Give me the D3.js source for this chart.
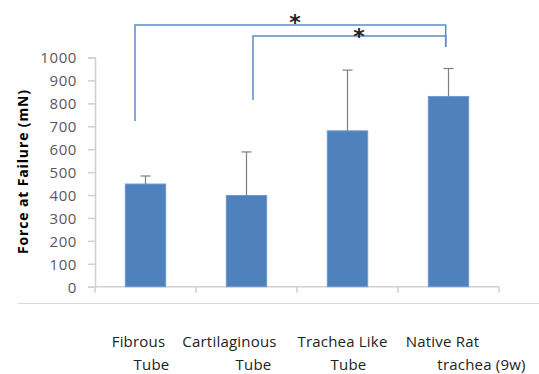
<!DOCTYPE html>
<html>
<head>
<meta charset="utf-8">
<script src="https://cdn.jsdelivr.net/npm/d3@7"></script>
<style>
body { margin: 0; background: #fff; }
</style>
</head>
<body>
<script>
// data
var categories = ["Fibrous Tube", "Cartilaginous Tube", "Trachea Like Tube", "Native Rat trachea (9w)"];
var labelLine1 = ["Fibrous", "Cartilaginous", "Trachea Like", "Native Rat"];
var labelLine2 = ["Tube", "Tube", "Tube", "trachea (9w)"];
var means = [448, 398, 680, 830];
var errors = [35, 190, 265, 122];
var yTicks = [0, 100, 200, 300, 400, 500, 600, 700, 800, 900, 1000];
// significance pairs: [from index, to index]
var sigPairs = [[0, 3], [1, 3]];

var w = 539;
var h = 374;
// plot area ("top" is taken on window, so pTop etc.)
var pLeft = 95, pRight = 499, pTop = 57.5, pBottom = 286.7;
var font = "'Open Sans', Lato, sans-serif";

var svg = d3.select("body")
.append("svg")
.attr("width", w)
.attr("height", h);

var x = d3.scaleBand()
.domain(categories)
.range([pLeft, pRight])
.paddingInner(0.6)
.paddingOuter(0.3);

var y = d3.scaleLinear()
.domain([0, 1000])
.range([pBottom, pTop]);

// y axis
var yAxis = svg.append("g")
.attr("transform", "translate(" + pLeft + ",0)")
.call(d3.axisLeft(y).tickValues(yTicks).tickFormat(d3.format("d")).tickSize(7).tickPadding(11));
yAxis.select(".domain").attr("stroke", "#d0d0d0").attr("stroke-width", 1.5);
yAxis.selectAll(".tick line").attr("stroke", "#d0d0d0").attr("stroke-width", 1.5);
yAxis.selectAll(".tick text")
.attr("font-family", font)
.attr("font-size", "15px")
.attr("fill", "#595959")
.attr("dy", "0.36em")
.style("letter-spacing", "0.6px");

// x axis line with category ticks
svg.append("line")
.attr("x1", pLeft).attr("x2", pRight)
.attr("y1", pBottom).attr("y2", pBottom)
.attr("stroke", "#d0d0d0").attr("stroke-width", 1.5);

var step = (pRight - pLeft) / categories.length;
var bounds = d3.range(categories.length + 1);
svg.selectAll(".xtick")
.data(bounds)
.enter()
.append("line")
.attr("class", "xtick")
.attr("x1", function(d) { return pLeft + d * step; })
.attr("x2", function(d) { return pLeft + d * step; })
.attr("y1", pBottom)
.attr("y2", pBottom + 6)
.attr("stroke", "#d0d0d0")
.attr("stroke-width", 1.5);

// bars
svg.selectAll("rect.bar")
.data(means)
.enter()
.append("rect")
.attr("class", "bar")
.attr("x", function(d, i) { return x(categories[i]); })
.attr("y", function(d) { return y(d); })
.attr("width", x.bandwidth())
.attr("height", function(d) { return y(0) - y(d); })
.attr("fill", "#4f81bd")
.attr("stroke", "#6f9ad0")
.attr("stroke-width", 1);

// error bars (upper only)
var eb = svg.selectAll("g.err")
.data(means)
.enter()
.append("g")
.attr("class", "err");
eb.append("line")
.attr("x1", function(d, i) { return x(categories[i]) + x.bandwidth() / 2; })
.attr("x2", function(d, i) { return x(categories[i]) + x.bandwidth() / 2; })
.attr("y1", function(d) { return y(d); })
.attr("y2", function(d, i) { return y(d + errors[i]); })
.attr("stroke", "#7f7f7f")
.attr("stroke-width", 1.2);
eb.append("line")
.attr("x1", function(d, i) { return x(categories[i]) + x.bandwidth() / 2 - 5; })
.attr("x2", function(d, i) { return x(categories[i]) + x.bandwidth() / 2 + 5; })
.attr("y1", function(d, i) { return y(d + errors[i]); })
.attr("y2", function(d, i) { return y(d + errors[i]); })
.attr("stroke", "#7f7f7f")
.attr("stroke-width", 1.2);

// significance brackets
var bracketTop = [25, 36];
var bracketLeftEnd = [121, 100];
var bracketRightEnd = 47;
var bracketX = [135, 253];
var rightX = 445.7;
sigPairs.forEach(function(p, i) {
  var path = d3.path();
  path.moveTo(bracketX[i], bracketLeftEnd[i]);
  path.lineTo(bracketX[i], bracketTop[i]);
  path.lineTo(rightX, bracketTop[i]);
  path.lineTo(rightX, bracketRightEnd);
  svg.append("path")
  .attr("d", path.toString())
  .attr("fill", "none")
  .attr("stroke", "#5b8bc9")
  .attr("stroke-width", 1.5);
});
var starX = [295, 359];
var starY = [30, 44];
starX.forEach(function(sx, i) {
  svg.append("text")
  .attr("x", sx)
  .attr("y", starY[i])
  .attr("text-anchor", "middle")
  .attr("font-family", "'DejaVu Sans', sans-serif")
  .attr("font-size", "22px")
  .attr("font-weight", "bold")
  .attr("fill", "#222")
  .text("*");
});

// y axis title
svg.append("text")
.attr("transform", "translate(28,172) rotate(-90)")
.attr("text-anchor", "middle")
.attr("font-family", font)
.attr("font-size", "14px")
.attr("font-weight", "bold")
.attr("fill", "#000")
.attr("textLength", 164)
.attr("lengthAdjust", "spacing")
.text("Force at Failure (mN)");

// separator line above category labels
svg.append("line")
.attr("x1", 18).attr("x2", w)
.attr("y1", 303.5).attr("y2", 303.5)
.attr("stroke", "#d9d9d9").attr("stroke-width", 1);

// category labels (two lines, offsets from band centre)
var off1 = [-7, -17, -5, -6];
var off2 = [6, 7, 1, 33];
svg.selectAll("text.l1")
.data(labelLine1)
.enter()
.append("text")
.attr("class", "l1")
.attr("x", function(d, i) { return x(categories[i]) + x.bandwidth() / 2 + off1[i]; })
.attr("y", 347)
.attr("text-anchor", "middle")
.attr("font-family", font)
.attr("font-size", "15px")
.attr("fill", "#222")
.style("letter-spacing", "0.2px")
.text(function(d) { return d; });
svg.selectAll("text.l2")
.data(labelLine2)
.enter()
.append("text")
.attr("class", "l2")
.attr("x", function(d, i) { return x(categories[i]) + x.bandwidth() / 2 + off2[i]; })
.attr("y", 370)
.attr("text-anchor", "middle")
.attr("font-family", font)
.attr("font-size", "15px")
.attr("fill", "#222")
.style("letter-spacing", "0.2px")
.text(function(d) { return d; });
</script>
</body>
</html>
